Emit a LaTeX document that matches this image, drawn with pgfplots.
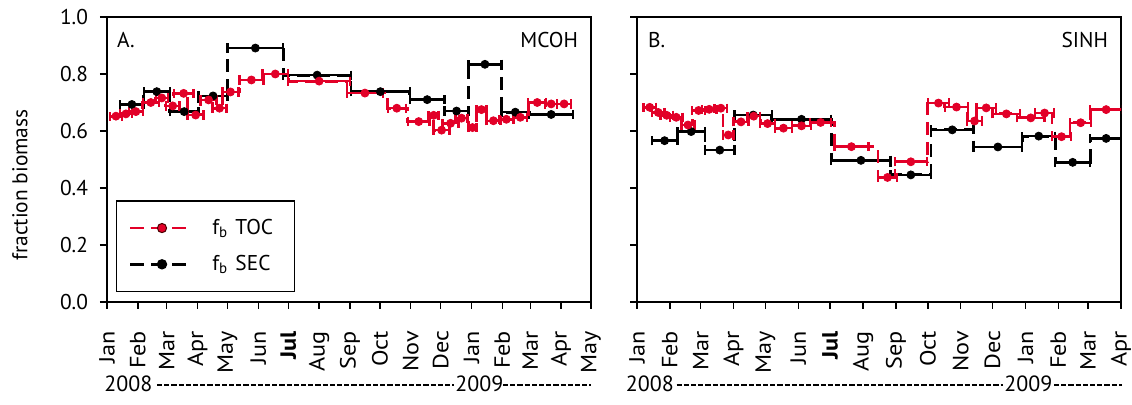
\documentclass[border=0pt]{standalone}
\usepackage{pgfplots}
\usepackage{pgfplotstable}
\pgfplotsset{compat=1.18}
\usepackage{fontspec}
\setmainfont{PT Sans}
\newfontfamily\monthfont[FakeStretch=1.1]{PT Sans}
\definecolor{tocred}{RGB}{226,0,40}

% d = day since 1 Jan 2008, v = fraction biomass, hw = half width (days)
\pgfplotstableread{
d v hw
25 0.693 12
50 0.738 13
77.5 0.668 14.5
106.5 0.723 14.5
149 0.891 28
211 0.796 34
274.5 0.738 29.5
321.5 0.710 17.5
351 0.670 12
379.5 0.834 16.5
410 0.666 14
446 0.658 22
}\blackA

\pgfplotstableread{
d v hw
9 0.652 6
19 0.660 6
29 0.668 7
44 0.700 8
55 0.716 6
66 0.688 7
77 0.732 10
89 0.656 8
102 0.709 8
113 0.680 7
124 0.737 8
145 0.779 12
169 0.800 13
213 0.775 31
259 0.733 18
291 0.680 9
313 0.633 11
328 0.655 5
336 0.603 8
345 0.627 8
356 0.645 6
367 0.612 4
376 0.675 5
388 0.636 7
401 0.641 7
415 0.648 7
432 0.700 9
446 0.695 6
459 0.695 7
}\redA

\pgfplotstableread{
d v hw
26 0.566 12
51 0.598 13
78 0.533 14
109.5 0.656 17.5
155 0.641 28
211 0.497 28
258 0.446 19
297 0.604 20
340 0.544 23
378.5 0.582 15.5
410.5 0.490 16.5
442 0.574 15
}\blackB

\pgfplotstableread{
d v hw
12 0.683 6
20 0.665 6
28 0.655 6
37 0.648 6
48 0.621 6
58 0.672 6
68 0.676 7
79 0.680 6
86 0.586 5
98 0.632 7
110 0.652 6
123 0.626 7
138 0.610 8
155 0.618 9
173 0.630 10
202 0.545 16
236 0.437 9
258 0.492 15
284 0.698 10
301 0.684 11
318 0.635 7
329 0.681 9
348 0.660 13
371 0.646 13
384 0.663 9
400 0.580 9
418 0.629 10
442 0.675 15
}\redB

\pgfplotsset{
  panel/.style={
    scale only axis, width=242pt, height=142.5pt,
    xmin=0, ymin=0, ymax=1,
    ytick={0,0.2,0.4,0.6,0.8,1.0},
    tick align=outside, major tick length=3.5pt,
    xtick pos=bottom, ytick pos=left,
    axis line style={line width=0.7pt},
    every tick/.style={black, line width=0.7pt},
    tick label style={font=\fontsize{10.7}{12}\selectfont},
    /pgf/number format/assume math mode=true,
    yticklabel style={xshift=-2.5pt, /pgf/number format/.cd, fixed, fixed zerofill, precision=1},
    xticklabel shift=7.5pt,
    xticklabel style={rotate=90, anchor=east, font=\monthfont\fontsize{11}{12}\selectfont},
  },
  stepline/.style={line width=1.4pt, dash pattern=on 6.5pt off 3.5pt, const plot mark left, forget plot},
  ebars/.style={only marks, mark=*, mark size=2pt, forget plot,
    error bars/.cd, x dir=both, x explicit,
    error bar style={line width=1.2pt, solid},
    error mark options={rotate=90, line width=1.2pt, mark size=2.3pt}},
}

\begin{document}
\begin{tikzpicture}
\useasboundingbox (0,0) rectangle (566pt,202.5pt);
\begin{axis}[panel, at={(53.5pt,51.5pt)}, anchor=south west, xmax=486,
  xtick={0,31,60,91,121,152,182,213,244,274,305,335,366,397,425,456,486},
  xticklabels={Jan,Feb,Mar,Apr,May,Jun,\textbf{Jul},Aug,Sep,Oct,Nov,Dec,Jan,Feb,Mar,Apr,May},
  legend style={at={(0.0186,0.035)}, anchor=south west, draw=black, line width=0.6pt,
    inner xsep=6pt, inner ysep=7pt, row sep=5pt,
    font=\fontsize{10.7}{12}\selectfont,
    nodes={text width=33pt, align=left},
    /tikz/every odd column/.append style={column sep=7pt}},
  legend cell align=left]
\addplot[black, stepline] table[x expr=\thisrow{d}-\thisrow{hw}, y=v] {\blackA};
\addplot[black, ebars] table[x=d, y=v, x error=hw] {\blackA};
\addplot[tocred, stepline] table[x expr=\thisrow{d}-\thisrow{hw}, y=v] {\redA};
\addplot[tocred, ebars] table[x=d, y=v, x error=hw] {\redA};
\addlegendimage{legend image code/.code={
  \draw[tocred, line width=1.4pt, dash pattern=on 7pt off 3.5pt] (0pt,0pt) -- (31.5pt,0pt);
  \fill[tocred, draw=black!70!red, line width=0.5pt] (16pt,0pt) circle (2.3pt);}}
\addlegendentry{f\textsubscript{b} TOC}
\addlegendimage{legend image code/.code={
  \draw[black, line width=1.4pt, dash pattern=on 7pt off 3.5pt] (0pt,0pt) -- (31.5pt,0pt);
  \fill[black] (16pt,0pt) circle (2.3pt);}}
\addlegendentry{f\textsubscript{b} SEC}
\node[anchor=north west, font=\fontsize{10.7}{12}\selectfont] at (rel axis cs:0,1) [xshift=1.5pt, yshift=-4pt] {A.};
\node[anchor=north east, font=\fontsize{10.7}{12}\selectfont] at (rel axis cs:1,1) [xshift=-3pt, yshift=-4pt] {MCOH};
\end{axis}

\begin{axis}[panel, at={(318.5pt,51.5pt)}, anchor=south west, xmax=456,
  xtick={0,31,60,91,121,152,182,213,244,274,305,335,366,397,425,456},
  xticklabels={Jan,Feb,Mar,Apr,May,Jun,\textbf{Jul},Aug,Sep,Oct,Nov,Dec,Jan,Feb,Mar,Apr},
  yticklabels={}]
\addplot[black, stepline] table[x expr=\thisrow{d}-\thisrow{hw}, y=v] {\blackB};
\addplot[black, ebars] table[x=d, y=v, x error=hw] {\blackB};
\addplot[tocred, stepline] table[x expr=\thisrow{d}-\thisrow{hw}, y=v] {\redB};
\addplot[tocred, ebars] table[x=d, y=v, x error=hw] {\redB};
\node[anchor=north west, font=\fontsize{10.7}{12}\selectfont] at (rel axis cs:0,1) [xshift=2pt, yshift=-4pt] {B.};
\node[anchor=north east, font=\fontsize{10.7}{12}\selectfont] at (rel axis cs:1,1) [xshift=-3pt, yshift=-4pt] {SINH};
\end{axis}

\node[rotate=90, font=\fontsize{10.7}{12}\selectfont] at (10pt,110pt) {fraction biomass};

\begin{scope}[font=\fontsize{11}{12}\selectfont]
\node[anchor=west, inner sep=0pt] at (52pt,10.5pt) {2008};
\draw[line width=0.9pt, dash pattern=on 2.6pt off 1pt] (78.5pt,9.8pt) -- (227pt,9.8pt);
\node[anchor=west, inner sep=0pt] at (227.5pt,10.5pt) {2009};
\draw[line width=0.9pt, dash pattern=on 2.6pt off 1pt] (251.5pt,9.8pt) -- (295.5pt,9.8pt);
\node[anchor=west, inner sep=0pt] at (312.75pt,10.5pt) {2008};
\draw[line width=0.9pt, dash pattern=on 2.6pt off 1pt] (338.25pt,9.8pt) -- (501.5pt,9.8pt);
\node[anchor=west, inner sep=0pt] at (502pt,10.5pt) {2009};
\draw[line width=0.9pt, dash pattern=on 2.6pt off 1pt] (527pt,9.8pt) -- (561pt,9.8pt);
\end{scope}
\end{tikzpicture}
\end{document}
